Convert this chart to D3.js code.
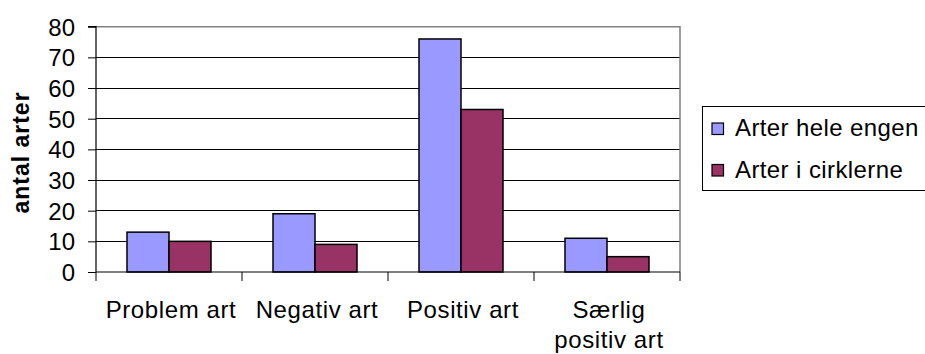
<!DOCTYPE html>
<html>
<head>
<meta charset="utf-8">
<script src="https://cdn.jsdelivr.net/npm/d3@7"></script>
<style>
  html, body { margin: 0; padding: 0; background: #fff; }
  svg { display: block; font-family: "Liberation Sans", Arial, sans-serif; }
</style>
</head>
<body>
<svg id="chart" width="925" height="354"></svg>
<script>
// Species counts per category: whole meadow vs. inside the circles
const categories = ["Problem art", "Negativ art", "Positiv art", "Særlig positiv art"];
const seriesNames = ["Arter hele engen", "Arter i cirklerne"];
const helEngen = [13, 19, 76, 11];
const iCirklerne = [10, 9, 53, 5];
const yTicks = [0, 10, 20, 30, 40, 50, 60, 70, 80];
const yTitle = "antal arter";

const colors = ["#9999FF", "#993366"];
const seriesValues = [helEngen, iCirklerne];

const svg = d3.select("#chart");
const plot = { left: 96, right: 680, top: 26.7, bottom: 272 };

const y = d3.scaleLinear().domain([0, 80]).range([plot.bottom, plot.top]);
const x0 = d3.scaleBand().domain(categories).range([plot.left, plot.right]).padding(0);
const x1 = d3.scaleBand().domain(seriesNames).range([0, x0.bandwidth()])
  .paddingInner(0).paddingOuter(0.738);

// Horizontal gridlines
svg.append("g").selectAll("line")
  .data(yTicks.filter(t => t > 0 && t < 80))
  .join("line")
  .attr("x1", plot.left).attr("x2", plot.right)
  .attr("y1", d => y(d)).attr("y2", d => y(d))
  .attr("stroke", "#000").attr("stroke-width", 1)
  .attr("shape-rendering", "crispEdges");

// Plot-area frame (top and right edges)
svg.append("path")
  .attr("d", `M${plot.left},${y(80)}H${plot.right}V${plot.bottom}`)
  .attr("fill", "none").attr("stroke", "#808080").attr("stroke-width", 1.5);

// Bars
const groups = svg.append("g").selectAll("g")
  .data(categories)
  .join("g")
  .attr("transform", d => `translate(${x0(d)},0)`);

groups.selectAll("rect")
  .data((c, i) => seriesNames.map((s, j) => ({ s, v: seriesValues[j][i], j })))
  .join("rect")
  .attr("x", d => x1(d.s))
  .attr("y", d => y(d.v))
  .attr("width", x1.bandwidth())
  .attr("height", d => y(0) - y(d.v))
  .attr("fill", d => colors[d.j])
  .attr("stroke", "#000")
  .attr("stroke-width", 1.5);

// Y axis
const yAxis = d3.axisLeft(y).tickValues(yTicks).tickSize(8).tickPadding(13);
const gy = svg.append("g").attr("transform", `translate(${plot.left},0)`).call(yAxis);
gy.select(".domain").attr("stroke", "#000").attr("stroke-width", 1.2).attr("d", `M-8,${y(80)}H0V${plot.bottom}`);
gy.selectAll(".tick line").attr("stroke", "#000");
gy.selectAll("text").attr("font-size", 24).attr("fill", "#000")
  .attr("font-family", "'Liberation Sans', Arial, sans-serif").attr("dy", "0.35em");

// X axis: category boundary ticks
const boundaries = categories.map(c => x0(c)).concat([plot.right]);
svg.append("line")
  .attr("x1", plot.left).attr("x2", plot.right)
  .attr("y1", y(0)).attr("y2", y(0))
  .attr("stroke", "#000").attr("stroke-width", 1.2);
svg.append("g").selectAll("line")
  .data(boundaries)
  .join("line")
  .attr("x1", d => d).attr("x2", d => d)
  .attr("y1", y(0)).attr("y2", y(0) + 9)
  .attr("stroke", "#000").attr("stroke-width", 1);

// Category labels, wrapped to the band width
const xLabels = svg.append("g").selectAll("text")
  .data(categories)
  .join("text")
  .attr("x", d => x0(d) + x0.bandwidth() / 2 + 2)
  .attr("y", 317.5)
  .attr("text-anchor", "middle")
  .attr("font-size", 24)
  .attr("letter-spacing", 0.6)
  .attr("fill", "#000");

xLabels.each(function (d) {
  const t = d3.select(this);
  const words = d.split(" ");
  const maxW = x0.bandwidth() - 8;
  let lines = [], cur = [];
  const probe = t.append("tspan");
  words.forEach(w => {
    const test = cur.concat([w]).join(" ");
    probe.text(test);
    if (probe.node().getComputedTextLength() > maxW && cur.length) {
      lines.push(cur.join(" "));
      cur = [w];
    } else {
      cur.push(w);
    }
  });
  lines.push(cur.join(" "));
  probe.remove();
  lines.forEach((ln, i) => {
    t.append("tspan").attr("x", t.attr("x")).attr("dy", i === 0 ? 0 : 30).text(ln);
  });
});

// Y axis title
svg.append("text")
  .attr("transform", "translate(29,152.5) rotate(-90)")
  .attr("text-anchor", "middle")
  .attr("font-size", 23)
  .attr("font-weight", "bold")
  .attr("letter-spacing", 1)
  .attr("fill", "#000")
  .text(yTitle);

// Legend
const legend = svg.append("g");
legend.append("rect")
  .attr("x", 702.5).attr("y", 106.5)
  .attr("width", 240).attr("height", 84)
  .attr("fill", "#fff").attr("stroke", "#000").attr("stroke-width", 1);

const items = legend.selectAll("g.item")
  .data(seriesNames)
  .join("g")
  .attr("class", "item")
  .attr("transform", (d, i) => `translate(0,${i * 41.5})`);

items.append("rect")
  .attr("x", 712).attr("y", 123)
  .attr("width", 11.5).attr("height", 11.5)
  .attr("fill", (d, i) => colors[i])
  .attr("stroke", "#000").attr("stroke-width", 1.2);

items.append("text")
  .attr("x", 735).attr("y", 136)
  .attr("font-size", 24)
  .attr("letter-spacing", 0.4)
  .attr("fill", "#000")
  .text(d => d);
</script>
</body>
</html>
